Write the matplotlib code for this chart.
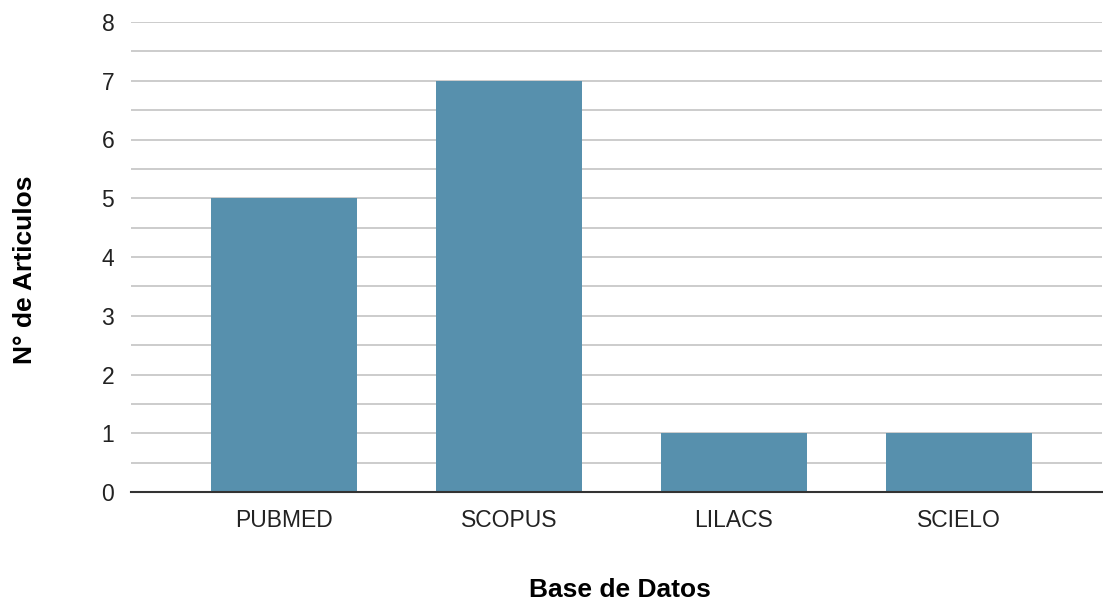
import matplotlib.pyplot as plt
from matplotlib.ticker import MultipleLocator

bases = ["PUBMED", "SCOPUS", "LILACS", "SCIELO"]
articulos = [5, 7, 1, 1]

plt.rcParams['font.family'] = ['Liberation Sans', 'DejaVu Sans']

fig = plt.figure(figsize=(11.03, 6.02), dpi=100)
ax = fig.add_axes([131 / 1103, 110 / 602, 971 / 1103, 470 / 602])

x = range(len(bases))
ax.bar(x, articulos, width=0.652, color="#5790ad", zorder=3)

ax.set_xlim(-0.68, 3.636)
ax.set_ylim(0, 8)
ax.yaxis.set_major_locator(MultipleLocator(1))
ax.yaxis.set_minor_locator(MultipleLocator(0.5))
ax.grid(axis='y', which='both', color="#cccccc", linewidth=1.4, zorder=0)

ax.set_xticks(list(x))
ax.set_xticklabels(bases)
ax.tick_params(axis='both', length=0, labelsize=16.5, colors="#222222")
ax.tick_params(axis='x', pad=12)
ax.tick_params(axis='y', pad=12)
ax.tick_params(axis='y', which='minor', length=0)

for side in ['top', 'right', 'left']:
    ax.spines[side].set_visible(False)
ax.spines['bottom'].set_color("#333333")
ax.spines['bottom'].set_linewidth(1.5)
ax.spines['bottom'].set_zorder(4)

ax.set_xlabel("Base de Datos", fontsize=19, fontweight='bold', va='center')
ax.xaxis.set_label_coords(0.5036, -0.2085)
ax.set_ylabel("N° de Articulos", fontsize=19, fontweight='bold', va='center')
ax.yaxis.set_label_coords(-0.109, 0.472)

fig.savefig("out.png", dpi=100)
